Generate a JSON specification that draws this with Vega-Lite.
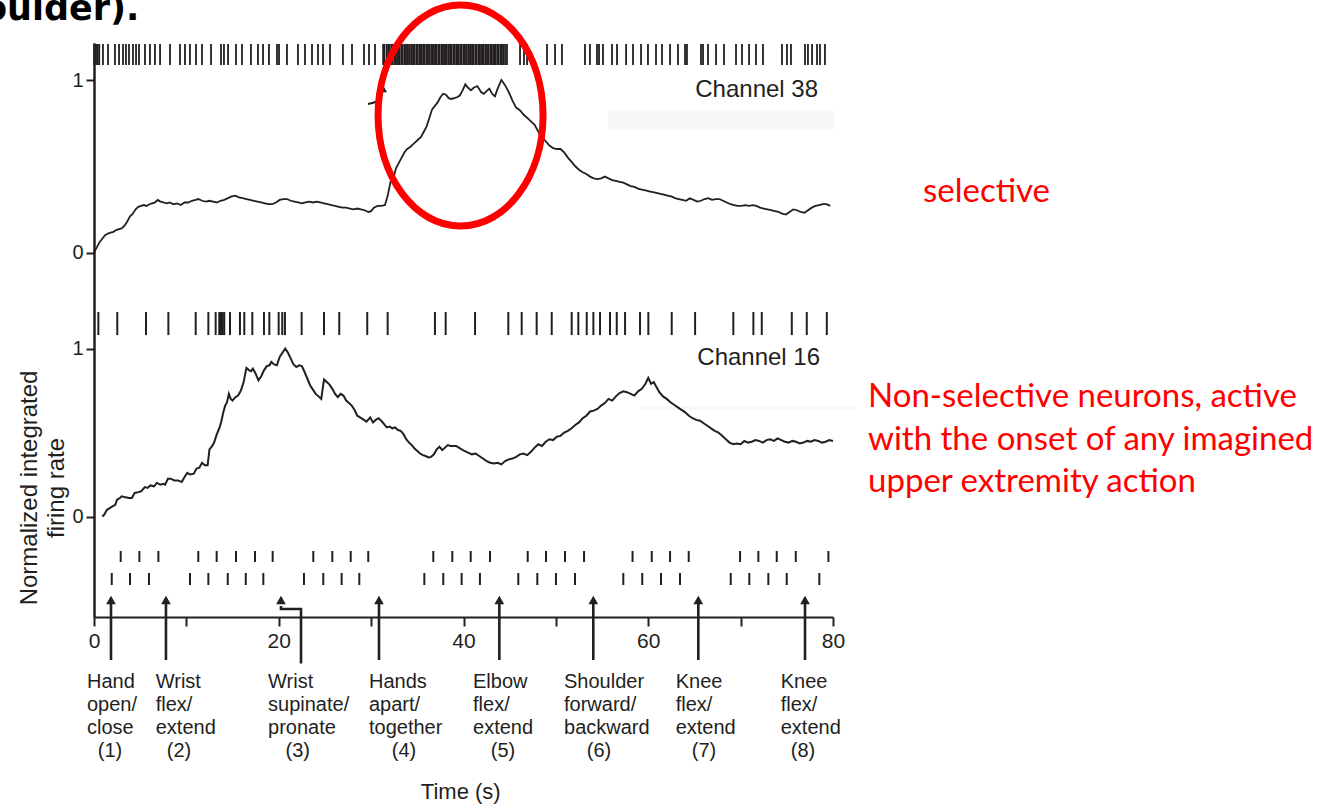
{
  "$schema": "https://vega.github.io/schema/vega-lite/v6.json",
  "width": 739,
  "height": 574,
  "autosize": "none",
  "padding": {"left": 94, "top": 43, "right": 500, "bottom": 187},
  "background": "white",
  "config": {
    "view": {"stroke": null},
    "axis": {
      "grid": false,
      "domainColor": "#231f20",
      "domainWidth": 2,
      "tickColor": "#231f20",
      "tickWidth": 2,
      "labelFont": "Liberation Sans",
      "labelColor": "#231f20"
    },
    "axisY": {"labelFontSize": 20, "tickSize": 8, "labelPadding": 3, "format": "d"},
    "text": {"font": "Liberation Sans", "color": "#231f20"}
  },
  "datasets": {
    "curve38": [
      {"t":0.0,"v":0.0},{"t":0.3,"v":0.03},{"t":0.6,"v":0.06},{"t":0.9,"v":0.08},{"t":1.2,"v":0.1},{"t":1.5,"v":0.11},{"t":1.8,"v":0.115},{"t":2.1,"v":0.12},{"t":2.4,"v":0.13},{"t":2.7,"v":0.135},{"t":3.0,"v":0.14},{"t":3.3,"v":0.155},{"t":3.6,"v":0.18},{"t":3.9,"v":0.21},{"t":4.2,"v":0.225},{"t":4.5,"v":0.25},{"t":4.8,"v":0.265},{"t":5.1,"v":0.27},{"t":5.4,"v":0.275},{"t":5.7,"v":0.27},{"t":6.0,"v":0.28},{"t":6.3,"v":0.285},{"t":6.6,"v":0.29},{"t":6.9,"v":0.305},{"t":7.2,"v":0.295},{"t":7.5,"v":0.29},{"t":7.9,"v":0.285},{"t":8.2,"v":0.29},{"t":8.6,"v":0.28},{"t":9.0,"v":0.285},{"t":9.4,"v":0.275},{"t":9.8,"v":0.29},{"t":10.2,"v":0.29},{"t":10.6,"v":0.3},{"t":11.0,"v":0.305},{"t":11.3,"v":0.31},{"t":11.7,"v":0.3},{"t":12.1,"v":0.295},{"t":12.5,"v":0.3},{"t":12.9,"v":0.295},{"t":13.3,"v":0.29},{"t":13.7,"v":0.3},{"t":14.1,"v":0.305},{"t":14.5,"v":0.315},{"t":14.9,"v":0.325},{"t":15.3,"v":0.33},{"t":15.7,"v":0.32},{"t":16.1,"v":0.315},{"t":16.5,"v":0.31},{"t":16.9,"v":0.305},{"t":17.3,"v":0.3},{"t":17.7,"v":0.295},{"t":18.1,"v":0.29},{"t":18.5,"v":0.285},{"t":18.9,"v":0.28},{"t":19.3,"v":0.28},{"t":19.7,"v":0.29},{"t":20.1,"v":0.305},{"t":20.5,"v":0.31},{"t":20.9,"v":0.31},{"t":21.3,"v":0.3},{"t":21.7,"v":0.295},{"t":22.1,"v":0.29},{"t":22.5,"v":0.285},{"t":22.9,"v":0.29},{"t":23.3,"v":0.295},{"t":23.7,"v":0.29},{"t":24.1,"v":0.295},{"t":24.5,"v":0.29},{"t":24.9,"v":0.285},{"t":25.3,"v":0.28},{"t":25.7,"v":0.275},{"t":26.1,"v":0.27},{"t":26.5,"v":0.265},{"t":26.9,"v":0.26},{"t":27.3,"v":0.26},{"t":27.7,"v":0.255},{"t":28.1,"v":0.25},{"t":28.5,"v":0.255},{"t":28.9,"v":0.25},{"t":29.3,"v":0.245},{"t":29.7,"v":0.235},{"t":30.0,"v":0.24},{"t":30.3,"v":0.26},{"t":30.7,"v":0.27},{"t":31.1,"v":0.27},{"t":31.5,"v":0.275},{"t":31.8,"v":0.33},{"t":32.1,"v":0.41},{"t":32.4,"v":0.43},{"t":32.7,"v":0.49},{"t":33.0,"v":0.52},{"t":33.3,"v":0.55},{"t":33.6,"v":0.58},{"t":33.9,"v":0.6},{"t":34.2,"v":0.61},{"t":34.5,"v":0.625},{"t":34.8,"v":0.64},{"t":35.1,"v":0.655},{"t":35.4,"v":0.67},{"t":35.7,"v":0.7},{"t":36.0,"v":0.73},{"t":36.3,"v":0.78},{"t":36.6,"v":0.83},{"t":36.9,"v":0.85},{"t":37.2,"v":0.87},{"t":37.5,"v":0.9},{"t":37.8,"v":0.92},{"t":38.1,"v":0.915},{"t":38.4,"v":0.895},{"t":38.7,"v":0.89},{"t":39.0,"v":0.895},{"t":39.3,"v":0.9},{"t":39.6,"v":0.91},{"t":39.9,"v":0.94},{"t":40.2,"v":0.975},{"t":40.5,"v":0.955},{"t":40.8,"v":0.94},{"t":41.1,"v":0.955},{"t":41.5,"v":0.965},{"t":41.9,"v":0.93},{"t":42.2,"v":0.92},{"t":42.5,"v":0.935},{"t":42.8,"v":0.95},{"t":43.1,"v":0.92},{"t":43.4,"v":0.905},{"t":43.7,"v":0.95},{"t":44.1,"v":1.0},{"t":44.5,"v":0.97},{"t":44.9,"v":0.93},{"t":45.3,"v":0.88},{"t":45.7,"v":0.84},{"t":46.1,"v":0.825},{"t":46.5,"v":0.8},{"t":46.9,"v":0.78},{"t":47.3,"v":0.76},{"t":47.7,"v":0.74},{"t":48.1,"v":0.7},{"t":48.5,"v":0.67},{"t":48.9,"v":0.645},{"t":49.3,"v":0.62},{"t":49.7,"v":0.605},{"t":50.1,"v":0.6},{"t":50.5,"v":0.6},{"t":50.9,"v":0.58},{"t":51.3,"v":0.55},{"t":51.7,"v":0.525},{"t":52.1,"v":0.5},{"t":52.5,"v":0.48},{"t":52.9,"v":0.465},{"t":53.3,"v":0.455},{"t":53.7,"v":0.44},{"t":54.1,"v":0.43},{"t":54.5,"v":0.425},{"t":54.9,"v":0.43},{"t":55.3,"v":0.44},{"t":55.7,"v":0.43},{"t":56.1,"v":0.42},{"t":56.5,"v":0.415},{"t":56.9,"v":0.41},{"t":57.3,"v":0.405},{"t":57.7,"v":0.395},{"t":58.1,"v":0.385},{"t":58.5,"v":0.38},{"t":58.9,"v":0.37},{"t":59.3,"v":0.365},{"t":59.7,"v":0.36},{"t":60.1,"v":0.355},{"t":60.5,"v":0.35},{"t":60.9,"v":0.345},{"t":61.3,"v":0.34},{"t":61.7,"v":0.335},{"t":62.1,"v":0.33},{"t":62.5,"v":0.325},{"t":62.9,"v":0.315},{"t":63.3,"v":0.31},{"t":63.7,"v":0.305},{"t":64.1,"v":0.3},{"t":64.5,"v":0.315},{"t":64.9,"v":0.305},{"t":65.3,"v":0.295},{"t":65.7,"v":0.3},{"t":66.1,"v":0.31},{"t":66.5,"v":0.315},{"t":66.9,"v":0.305},{"t":67.3,"v":0.31},{"t":67.7,"v":0.31},{"t":68.1,"v":0.3},{"t":68.5,"v":0.29},{"t":68.9,"v":0.28},{"t":69.3,"v":0.275},{"t":69.7,"v":0.27},{"t":70.1,"v":0.27},{"t":70.5,"v":0.275},{"t":70.9,"v":0.27},{"t":71.3,"v":0.275},{"t":71.7,"v":0.27},{"t":72.1,"v":0.26},{"t":72.5,"v":0.255},{"t":72.9,"v":0.25},{"t":73.3,"v":0.245},{"t":73.7,"v":0.24},{"t":74.1,"v":0.235},{"t":74.5,"v":0.225},{"t":74.9,"v":0.22},{"t":75.3,"v":0.235},{"t":75.7,"v":0.25},{"t":76.1,"v":0.245},{"t":76.5,"v":0.235},{"t":76.9,"v":0.23},{"t":77.3,"v":0.245},{"t":77.7,"v":0.26},{"t":78.1,"v":0.27},{"t":78.5,"v":0.275},{"t":78.9,"v":0.28},{"t":79.3,"v":0.28},{"t":79.7,"v":0.27}
    ],
    "curve16": [
      {"t":0.9,"v":0.0},{"t":1.1,"v":0.01},{"t":1.4,"v":0.04},{"t":1.7,"v":0.05},{"t":2.0,"v":0.06},{"t":2.3,"v":0.07},{"t":2.5,"v":0.1},{"t":2.8,"v":0.11},{"t":3.0,"v":0.12},{"t":3.4,"v":0.115},{"t":3.8,"v":0.11},{"t":4.1,"v":0.11},{"t":4.4,"v":0.14},{"t":4.8,"v":0.145},{"t":5.1,"v":0.15},{"t":5.5,"v":0.175},{"t":5.8,"v":0.17},{"t":6.1,"v":0.185},{"t":6.5,"v":0.18},{"t":6.8,"v":0.2},{"t":7.2,"v":0.19},{"t":7.5,"v":0.195},{"t":7.7,"v":0.19},{"t":8.0,"v":0.225},{"t":8.3,"v":0.225},{"t":8.7,"v":0.215},{"t":9.1,"v":0.215},{"t":9.5,"v":0.205},{"t":9.8,"v":0.235},{"t":10.1,"v":0.26},{"t":10.4,"v":0.25},{"t":10.8,"v":0.255},{"t":11.1,"v":0.285},{"t":11.4,"v":0.29},{"t":11.7,"v":0.32},{"t":12.0,"v":0.305},{"t":12.3,"v":0.305},{"t":12.5,"v":0.4},{"t":12.8,"v":0.42},{"t":13.0,"v":0.44},{"t":13.3,"v":0.49},{"t":13.6,"v":0.53},{"t":13.8,"v":0.57},{"t":14.0,"v":0.62},{"t":14.2,"v":0.66},{"t":14.4,"v":0.68},{"t":14.6,"v":0.73},{"t":14.8,"v":0.7},{"t":15.0,"v":0.69},{"t":15.3,"v":0.71},{"t":15.6,"v":0.72},{"t":15.9,"v":0.75},{"t":16.2,"v":0.8},{"t":16.5,"v":0.885},{"t":16.8,"v":0.87},{"t":17.0,"v":0.865},{"t":17.2,"v":0.88},{"t":17.5,"v":0.85},{"t":17.8,"v":0.81},{"t":18.1,"v":0.835},{"t":18.4,"v":0.87},{"t":18.7,"v":0.895},{"t":19.0,"v":0.9},{"t":19.2,"v":0.92},{"t":19.5,"v":0.905},{"t":19.8,"v":0.9},{"t":20.1,"v":0.95},{"t":20.4,"v":0.975},{"t":20.7,"v":1.0},{"t":21.0,"v":0.975},{"t":21.3,"v":0.94},{"t":21.6,"v":0.905},{"t":21.9,"v":0.89},{"t":22.2,"v":0.9},{"t":22.5,"v":0.895},{"t":22.8,"v":0.86},{"t":23.1,"v":0.82},{"t":23.4,"v":0.78},{"t":23.7,"v":0.755},{"t":24.0,"v":0.73},{"t":24.3,"v":0.715},{"t":24.6,"v":0.7},{"t":24.9,"v":0.815},{"t":25.2,"v":0.8},{"t":25.5,"v":0.785},{"t":25.8,"v":0.76},{"t":26.1,"v":0.73},{"t":26.4,"v":0.71},{"t":26.7,"v":0.73},{"t":27.0,"v":0.72},{"t":27.3,"v":0.69},{"t":27.6,"v":0.675},{"t":27.9,"v":0.66},{"t":28.2,"v":0.635},{"t":28.5,"v":0.6},{"t":28.8,"v":0.59},{"t":29.1,"v":0.58},{"t":29.5,"v":0.565},{"t":29.9,"v":0.59},{"t":30.2,"v":0.56},{"t":30.5,"v":0.575},{"t":30.8,"v":0.585},{"t":31.1,"v":0.57},{"t":31.4,"v":0.55},{"t":31.7,"v":0.53},{"t":32.0,"v":0.535},{"t":32.3,"v":0.525},{"t":32.6,"v":0.53},{"t":32.9,"v":0.515},{"t":33.2,"v":0.51},{"t":33.5,"v":0.49},{"t":33.8,"v":0.46},{"t":34.1,"v":0.44},{"t":34.4,"v":0.425},{"t":34.7,"v":0.405},{"t":35.0,"v":0.39},{"t":35.3,"v":0.375},{"t":35.6,"v":0.365},{"t":35.9,"v":0.36},{"t":36.2,"v":0.352},{"t":36.5,"v":0.355},{"t":36.8,"v":0.37},{"t":37.1,"v":0.4},{"t":37.4,"v":0.415},{"t":37.7,"v":0.395},{"t":38.0,"v":0.41},{"t":38.3,"v":0.425},{"t":38.6,"v":0.42},{"t":38.9,"v":0.42},{"t":39.2,"v":0.42},{"t":39.5,"v":0.41},{"t":39.8,"v":0.4},{"t":40.1,"v":0.39},{"t":40.5,"v":0.38},{"t":40.9,"v":0.37},{"t":41.3,"v":0.375},{"t":41.7,"v":0.36},{"t":42.1,"v":0.345},{"t":42.5,"v":0.33},{"t":42.9,"v":0.32},{"t":43.3,"v":0.315},{"t":43.7,"v":0.32},{"t":44.1,"v":0.31},{"t":44.5,"v":0.33},{"t":44.9,"v":0.34},{"t":45.3,"v":0.345},{"t":45.7,"v":0.355},{"t":46.1,"v":0.37},{"t":46.5,"v":0.375},{"t":46.9,"v":0.365},{"t":47.3,"v":0.385},{"t":47.7,"v":0.41},{"t":48.1,"v":0.43},{"t":48.5,"v":0.42},{"t":48.9,"v":0.445},{"t":49.3,"v":0.46},{"t":49.7,"v":0.455},{"t":50.1,"v":0.475},{"t":50.5,"v":0.48},{"t":50.9,"v":0.5},{"t":51.3,"v":0.51},{"t":51.7,"v":0.525},{"t":52.1,"v":0.545},{"t":52.5,"v":0.56},{"t":52.9,"v":0.585},{"t":53.3,"v":0.6},{"t":53.7,"v":0.625},{"t":54.1,"v":0.63},{"t":54.5,"v":0.64},{"t":54.9,"v":0.66},{"t":55.3,"v":0.675},{"t":55.7,"v":0.7},{"t":56.1,"v":0.69},{"t":56.5,"v":0.715},{"t":56.9,"v":0.735},{"t":57.3,"v":0.745},{"t":57.7,"v":0.74},{"t":58.1,"v":0.73},{"t":58.5,"v":0.72},{"t":58.9,"v":0.745},{"t":59.3,"v":0.76},{"t":59.7,"v":0.79},{"t":60.0,"v":0.825},{"t":60.3,"v":0.79},{"t":60.6,"v":0.8},{"t":60.9,"v":0.77},{"t":61.2,"v":0.74},{"t":61.6,"v":0.715},{"t":62.0,"v":0.7},{"t":62.4,"v":0.68},{"t":62.8,"v":0.665},{"t":63.2,"v":0.65},{"t":63.6,"v":0.635},{"t":64.0,"v":0.62},{"t":64.4,"v":0.6},{"t":64.8,"v":0.585},{"t":65.2,"v":0.575},{"t":65.6,"v":0.57},{"t":66.0,"v":0.555},{"t":66.4,"v":0.54},{"t":66.8,"v":0.525},{"t":67.2,"v":0.51},{"t":67.6,"v":0.5},{"t":68.0,"v":0.48},{"t":68.4,"v":0.46},{"t":68.8,"v":0.44},{"t":69.2,"v":0.43},{"t":69.6,"v":0.435},{"t":70.0,"v":0.43},{"t":70.4,"v":0.45},{"t":70.8,"v":0.44},{"t":71.2,"v":0.445},{"t":71.6,"v":0.455},{"t":72.0,"v":0.45},{"t":72.4,"v":0.44},{"t":72.8,"v":0.455},{"t":73.2,"v":0.46},{"t":73.6,"v":0.45},{"t":74.0,"v":0.465},{"t":74.4,"v":0.455},{"t":74.8,"v":0.445},{"t":75.2,"v":0.44},{"t":75.6,"v":0.45},{"t":76.0,"v":0.445},{"t":76.4,"v":0.435},{"t":76.8,"v":0.44},{"t":77.2,"v":0.45},{"t":77.6,"v":0.445},{"t":78.0,"v":0.455},{"t":78.4,"v":0.45},{"t":78.8,"v":0.44},{"t":79.2,"v":0.445},{"t":79.6,"v":0.455},{"t":80.0,"v":0.45}
    ],
    "spikes38": [
      {"t":0.03},{"t":0.22},{"t":0.4},{"t":0.57},{"t":0.97},{"t":1.52},{"t":2.27},{"t":2.71},{"t":3.14},{"t":3.46},{"t":3.79},{"t":4.22},{"t":4.55},{"t":4.87},{"t":5.52},{"t":6.06},{"t":6.6},{"t":7.15},{"t":8.23},{"t":9.31},{"t":9.85},{"t":10.39},{"t":11.04},{"t":11.69},{"t":12.67},{"t":13.75},{"t":14.07},{"t":14.51},{"t":15.37},{"t":16.02},{"t":16.99},{"t":17.75},{"t":18.3},{"t":18.94},{"t":19.81},{"t":20.03},{"t":20.89},{"t":22.08},{"t":22.84},{"t":23.6},{"t":24.25},{"t":24.79},{"t":25.55},{"t":26.95},{"t":27.93},{"t":29.23},{"t":29.77},{"t":30.42},
      {"t":31.3},{"t":31.45},{"t":31.7},{"t":31.85},{"t":32.0},{"t":32.2},{"t":32.3},{"t":32.5},{"t":32.65},{"t":32.8},{"t":32.95},{"t":33.1},{"t":33.3},{"t":33.4},{"t":33.6},{"t":33.75},{"t":33.9},{"t":34.1},{"t":34.2},{"t":34.4},{"t":34.55},{"t":34.7},{"t":34.9},{"t":35.0},{"t":35.2},{"t":35.35},{"t":35.5},{"t":35.7},{"t":35.8},{"t":36.0},{"t":36.15},{"t":36.3},{"t":36.5},{"t":36.6},{"t":36.8},{"t":36.95},{"t":37.1},{"t":37.3},{"t":37.4},{"t":37.6},{"t":37.75},{"t":37.9},{"t":38.1},{"t":38.2},{"t":38.4},{"t":38.55},{"t":38.7},{"t":38.9},{"t":39.0},{"t":39.2},{"t":39.35},{"t":39.5},{"t":39.7},{"t":39.8},{"t":40.0},{"t":40.15},{"t":40.3},{"t":40.5},{"t":40.6},{"t":40.8},{"t":40.95},{"t":41.1},{"t":41.3},{"t":41.4},{"t":41.6},{"t":41.75},{"t":41.9},{"t":42.1},{"t":42.2},{"t":42.4},{"t":42.55},{"t":42.7},{"t":42.9},{"t":43.0},{"t":43.2},{"t":43.35},{"t":43.5},{"t":43.7},{"t":43.8},{"t":44.0},{"t":44.15},{"t":44.3},{"t":44.5},
      {"t":44.71},{"t":46.12},{"t":46.55},{"t":46.88},{"t":49.04},{"t":49.91},{"t":50.66},{"t":53.15},{"t":53.69},{"t":54.45},{"t":54.67},{"t":55.1},{"t":56.08},{"t":56.62},{"t":57.6},{"t":58.35},{"t":59.22},{"t":59.97},{"t":60.84},{"t":61.49},{"t":62.36},{"t":63.22},{"t":63.98},{"t":64.19},{"t":65.71},{"t":65.93},{"t":66.47},{"t":67.34},{"t":68.2},{"t":69.5},{"t":70.15},{"t":70.91},{"t":71.66},{"t":72.42},{"t":74.48},{"t":75.02},{"t":75.45},{"t":76.97},{"t":77.29},{"t":77.73},{"t":78.27},{"t":78.59},{"t":79.13}
    ],
    "spikes16": [
      {"t":0.47},{"t":2.52},{"t":5.63},{"t":8.05},{"t":11.01},{"t":12.38},{"t":13.17},{"t":13.56},{"t":13.75},{"t":13.93},{"t":14.1},{"t":14.72},{"t":15.8},{"t":16.27},{"t":17.14},{"t":18.4},{"t":18.98},{"t":19.99},{"t":20.38},{"t":20.67},{"t":22.48},{"t":24.9},{"t":26.55},{"t":29.58},{"t":31.79},{"t":36.91},{"t":38.07},{"t":41.25},{"t":44.85},{"t":46.3},{"t":47.92},{"t":49.55},{"t":51.71},{"t":52.43},{"t":53.34},{"t":54.06},{"t":54.78},{"t":55.86},{"t":56.59},{"t":57.49},{"t":59.11},{"t":60.01},{"t":62.54},{"t":65.07},{"t":69.21},{"t":71.38},{"t":72.29},{"t":75.54},{"t":77.16},{"t":79.33}
    ],
    "cueUpper": [
      {"t":2.89},{"t":4.91},{"t":6.97},{"t":11.29},{"t":13.28},{"t":15.37},{"t":17.43},{"t":19.34},{"t":23.74},{"t":25.8},{"t":27.79},{"t":29.69},{"t":36.73},{"t":38.79},{"t":40.78},{"t":42.87},{"t":46.95},{"t":48.93},{"t":50.99},{"t":53.05},{"t":58.3},{"t":60.38},{"t":62.36},{"t":64.38},{"t":69.94},{"t":71.92},{"t":73.91},{"t":75.97},{"t":79.5}
    ],
    "cueLower": [
      {"t":1.92},{"t":3.9},{"t":5.95},{"t":10.39},{"t":12.38},{"t":14.48},{"t":16.43},{"t":18.33},{"t":22.73},{"t":24.82},{"t":26.81},{"t":28.72},{"t":35.76},{"t":37.81},{"t":39.8},{"t":41.78},{"t":45.93},{"t":47.99},{"t":50.01},{"t":52.07},{"t":57.3},{"t":59.35},{"t":61.38},{"t":63.44},{"t":68.93},{"t":70.94},{"t":73.0},{"t":74.99},{"t":78.52}
    ],
    "onsets": [
      {"t":1.84},{"t":7.79},{"t":30.85},{"t":43.88},{"t":54.05},{"t":65.42},{"t":76.97}
    ],
    "heads": [
      {"t":1.84},{"t":7.79},{"t":20.24},{"t":30.85},{"t":43.88},{"t":54.05},{"t":65.42},{"t":76.97}
    ],
    "bentArrow": [
      {"t":20.24,"v":-0.533,"o":0},{"t":20.24,"v":-0.5506,"o":1},{"t":22.41,"v":-0.5506,"o":2},{"t":22.41,"v":-0.875,"o":3}
    ],
    "actions": [
      {"t":-0.76,"text":"Hand\nopen/\nclose"},
      {"t":6.68,"text":"Wrist\nflex/\nextend"},
      {"t":18.84,"text":"Wrist\nsupinate/\npronate"},
      {"t":29.77,"text":"Hands\napart/\ntogether"},
      {"t":41.03,"text":"Elbow\nflex/\nextend"},
      {"t":50.88,"text":"Shoulder\nforward/\nbackward"},
      {"t":62.97,"text":"Knee\nflex/\nextend"},
      {"t":74.34,"text":"Knee\nflex/\nextend"}
    ],
    "actionNums": [
      {"t":1.73,"text":"(1)"},{"t":9.2,"text":"(2)"},{"t":22.05,"text":"(3)"},{"t":33.56,"text":"(4)"},{"t":44.28,"text":"(5)"},{"t":54.67,"text":"(6)"},{"t":66.04,"text":"(7)"},{"t":76.75,"text":"(8)"}
    ],
    "onsetArc": [
      {"t":29.66,"v":0.861},{"t":30.64,"v":0.878},{"t":31.18,"v":0.919}
    ]
  },
  "encoding": {
    "x": {
      "field": "t",
      "type": "quantitative",
      "scale": {"domain": [0, 80], "nice": false, "zero": false},
      "axis": {
        "values": [0, 10, 20, 30, 40, 50, 60, 70, 80],
        "labelExpr": "datum.value % 20 === 0 ? datum.label : ''",
        "tickSize": 9,
        "labelPadding": 4,
        "labelFontSize": 21,
        "labelFlush": false,
        "labelOverlap": false,
        "title": null
      }
    }
  },
  "layer": [
    {
      "layer": [
        {
          "data": {"values": [{"t": 55.64, "t2": 80.11, "v": 0.826, "v2": 0.71}]},
          "mark": {"type": "rect", "color": "#f7f7f7"},
          "encoding": {
            "x2": {"field": "t2"},
            "y": {"field": "v", "type": "quantitative"},
            "y2": {"field": "v2"}
          }
        },
        {
          "data": {"name": "spikes38"},
          "mark": {"type": "rule", "color": "#231f20", "strokeWidth": 1.8},
          "encoding": {
            "y": {"datum": 1.087, "type": "quantitative"},
            "y2": {"datum": 1.209}
          }
        },
        {
          "data": {"name": "curve38"},
          "mark": {"type": "line", "color": "#231f20", "strokeWidth": 1.8},
          "encoding": {
            "y": {
              "field": "v",
              "type": "quantitative",
              "scale": {"domain": [-2.113, 1.2145], "nice": false, "zero": false},
              "axis": {
                "orient": "left",
                "values": [0, 1],
                "format": "d",
                "tickSize": 8,
                "labelPadding": 3,
                "labelFontSize": 20,
                "title": null
              }
            }
          }
        },
        {
          "data": {"name": "onsetArc"},
          "mark": {"type": "line", "color": "#231f20", "strokeWidth": 2, "interpolate": "monotone"},
          "encoding": {"y": {"field": "v", "type": "quantitative"}}
        },
        {
          "data": {"values": [{"t": 31.18, "v": 0.954}]},
          "mark": {"type": "point", "shape": "triangle-up", "size": 100, "filled": true, "color": "#231f20", "opacity": 1},
          "encoding": {"y": {"field": "v", "type": "quantitative"}}
        },
        {
          "data": {"values": [{"t": 39.68, "v": 0.794}]},
          "mark": {
            "type": "point",
            "shape": "M-0.7466,0A0.7466,1,0,1,1,0.7466,0A0.7466,1,0,1,1,-0.7466,0Z",
            "size": 48841,
            "filled": false,
            "stroke": "#ff0000",
            "strokeWidth": 7,
            "opacity": 1
          },
          "encoding": {"y": {"field": "v", "type": "quantitative"}}
        },
        {
          "data": {"values": [{"t": 78.38, "v": 0.942, "text": "Channel 38"}]},
          "mark": {"type": "text", "align": "right", "baseline": "middle", "fontSize": 24},
          "encoding": {
            "y": {"field": "v", "type": "quantitative"},
            "text": {"field": "text"}
          }
        },
        {
          "data": {"values": [{"t": 89.74, "v": 0.351, "text": "selective"}]},
          "mark": {"type": "text", "align": "left", "baseline": "middle", "fontSize": 33, "font": "Lato", "color": "#ff0000"},
          "encoding": {
            "y": {"field": "v", "type": "quantitative"},
            "text": {"field": "text"}
          }
        },
        {
          "data": {"values": [{"t": 4.9, "v": 1.348, "text": "shoulder)."}]},
          "mark": {"type": "text", "align": "right", "baseline": "alphabetic", "fontSize": 35, "font": "DejaVu Sans", "fontWeight": "bold", "color": "#000000"},
          "encoding": {
            "y": {"field": "v", "type": "quantitative"},
            "text": {"field": "text"}
          }
        }
      ]
    },
    {
      "layer": [
        {
          "data": {"values": [{"t": 59.1, "t2": 82.4, "v": 0.658, "v2": 0.634}]},
          "mark": {"type": "rect", "color": "#f8f8f8"},
          "encoding": {
            "x2": {"field": "t2"},
            "y": {"field": "v", "type": "quantitative"},
            "y2": {"field": "v2"}
          }
        },
        {
          "data": {"name": "spikes16"},
          "mark": {"type": "rule", "color": "#231f20", "strokeWidth": 2},
          "encoding": {
            "y": {"datum": 1.08, "type": "quantitative"},
            "y2": {"datum": 1.217}
          }
        },
        {
          "data": {"name": "curve16"},
          "mark": {"type": "line", "color": "#231f20", "strokeWidth": 2},
          "encoding": {
            "y": {
              "field": "v",
              "type": "quantitative",
              "scale": {"domain": [-0.5982, 2.8185], "nice": false, "zero": false},
              "axis": {
                "orient": "left",
                "values": [0, 1],
                "format": "d",
                "tickSize": 8,
                "labelPadding": 3,
                "labelFontSize": 20,
                "title": null
              }
            }
          }
        },
        {
          "data": {"name": "cueUpper"},
          "mark": {"type": "rule", "color": "#231f20", "strokeWidth": 2},
          "encoding": {
            "y": {"datum": -0.2054, "type": "quantitative"},
            "y2": {"datum": -0.2708}
          }
        },
        {
          "data": {"name": "cueLower"},
          "mark": {"type": "rule", "color": "#231f20", "strokeWidth": 2},
          "encoding": {
            "y": {"datum": -0.3363, "type": "quantitative"},
            "y2": {"datum": -0.4077}
          }
        },
        {
          "data": {"name": "onsets"},
          "mark": {"type": "rule", "color": "#231f20", "strokeWidth": 2.6},
          "encoding": {
            "y": {"datum": -0.52, "type": "quantitative"},
            "y2": {"datum": -0.854}
          }
        },
        {
          "data": {"name": "bentArrow"},
          "mark": {"type": "line", "color": "#231f20", "strokeWidth": 2.6},
          "encoding": {
            "y": {"field": "v", "type": "quantitative"},
            "order": {"field": "o"}
          }
        },
        {
          "data": {"name": "heads"},
          "mark": {"type": "point", "shape": "triangle-up", "size": 95, "filled": true, "color": "#231f20", "opacity": 1},
          "encoding": {"y": {"datum": -0.497, "type": "quantitative"}}
        },
        {
          "data": {"values": [{"t": 78.6, "v": 0.943, "text": "Channel 16"}]},
          "mark": {"type": "text", "align": "right", "baseline": "middle", "fontSize": 24},
          "encoding": {
            "y": {"field": "v", "type": "quantitative"},
            "text": {"field": "text"}
          }
        },
        {
          "data": {"name": "actions"},
          "mark": {"type": "text", "align": "left", "baseline": "alphabetic", "fontSize": 20, "lineBreak": "\n", "lineHeight": 23},
          "encoding": {
            "y": {"datum": -1.0208, "type": "quantitative"},
            "text": {"field": "text"}
          }
        },
        {
          "data": {"name": "actionNums"},
          "mark": {"type": "text", "align": "center", "baseline": "alphabetic", "fontSize": 20},
          "encoding": {
            "y": {"datum": -1.4315, "type": "quantitative"},
            "text": {"field": "text"}
          }
        },
        {
          "data": {"values": [{"t": 39.7, "v": -1.6815, "text": "Time (s)"}]},
          "mark": {"type": "text", "align": "center", "baseline": "alphabetic", "fontSize": 22},
          "encoding": {
            "y": {"field": "v", "type": "quantitative"},
            "text": {"field": "text"}
          }
        },
        {
          "data": {"values": [
            {"t": -6.93, "v": 0.17, "text": "Normalized integrated"},
            {"t": -4.0, "v": 0.17, "text": "firing rate"}
          ]},
          "mark": {"type": "text", "align": "center", "baseline": "middle", "angle": 270, "fontSize": 24},
          "encoding": {
            "y": {"field": "v", "type": "quantitative"},
            "text": {"field": "text"}
          }
        },
        {
          "data": {"values": [
            {"t": 83.79, "v": 0.711, "text": "Non-selective neurons, active"},
            {"t": 83.79, "v": 0.455, "text": "with the onset of any imagined"},
            {"t": 83.79, "v": 0.205, "text": "upper extremity action"}
          ]},
          "mark": {"type": "text", "align": "left", "baseline": "middle", "fontSize": 33, "font": "Lato", "color": "#ff0000"},
          "encoding": {
            "y": {"field": "v", "type": "quantitative"},
            "text": {"field": "text"}
          }
        }
      ]
    }
  ],
  "resolve": {"scale": {"y": "independent"}}
}
